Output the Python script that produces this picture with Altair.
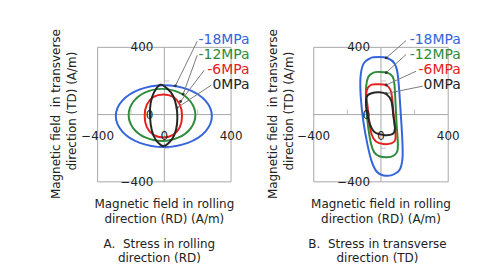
import altair as alt
import pandas as pd

# ---------------- data ----------------
ticks = [-400, 0, 400]
minor_ticks = [-200, 200]
series = ["-18MPa", "-12MPa", "-6MPa", "0MPa"]

# Panel A: stress in rolling direction
A_m18_x = [285, 246, 141, -3, -147, -252, -291, -252, -147, -3, 141, 246]
A_m18_y = [-9, 83, 150, 175, 150, 83, -9, -101, -168, -193, -168, -101]
A_m12_x = [186, 159, 86, -14, -114, -187, -214, -187, -114, -14, 86, 159]
A_m12_y = [-2, 75, 132, 153, 132, 75, -2, -80, -136, -157, -136, -80]
A_m6_x = [106, 93, 53, -6, -65, -105, -118, -105, -65, -6, 53, 93]
A_m6_y = [-8, 59, 105, 120, 105, 59, -8, -75, -121, -136, -121, -75]
A_0_x = [-24, 20, 52, 72, 78, 70, 45, -4, -50, -75, -86, -82, -62]
A_0_y = [178, 152, 112, 50, -20, -90, -148, -187, -152, -95, -10, 70, 132]

# Panel B: stress in transverse direction
B_m18_x = [-15, 40, 80, 98, 108, 118, 127, 128, 110, 65, 15, -25, -55, -80, -105, -120, -122, -105, -65]
B_m18_y = [342, 335, 305, 250, 150, 0, -150, -260, -330, -360, -362, -340, -280, -180, -40, 100, 220, 300, 335]
B_m12_x = [-10, 40, 70, 80, 86, 92, 100, 98, 75, 35, -10, -40, -60, -78, -88, -88, -75, -45]
B_m12_y = [254, 248, 225, 180, 80, -40, -160, -215, -245, -254, -248, -225, -170, -60, 60, 170, 225, 250]
B_m6_x = [-20, 30, 55, 65, 75, 86, 85, 65, 15, -30, -55, -70, -80, -88, -78, -55]
B_m6_y = [180, 175, 150, 110, 0, -100, -150, -170, -175, -160, -120, -40, 50, 120, 160, 178]
B_0_x = [-86, -56, -9, 33, 62, 74, 83, 68, 15, -39, -68, -86]
B_0_y = [104, 127, 133, 121, 80, -9, -86, -116, -121, -104, -50, 33]

# leader lines: label anchor -> point on curve (data units of each panel)
A_lead_x1 = [197, 197, 239, 281]
A_lead_y1 = [436, 353, 264, 175]
A_lead_x2 = [66, 113, 97, 76]
A_lead_y2 = [171, 122, 78, 40]
A_lab_x = [511, 511, 511, 511]
A_lab_y = [441, 352, 266, 175]

B_lead_x1 = [149, 149, 209, 248]
B_lead_y1 = [440, 357, 258, 169]
B_lead_x2 = [31, 31, 31, 31]
B_lead_y2 = [337, 250, 176, 125]
B_lab_x = [475, 475, 475, 475]
B_lab_y = [441, 352, 266, 175]

# ---------------- styles ----------------
FONT = "DejaVu Sans"
line_colors = ["#3565dc", "#2e8b3c", "#e3211e", "#262626"]
label_colors = ["#4a7ae0", "#3a9a48", "#e8302a", "#222222"]
GRID = "#a8a8a8"


def curves_df(panel_arrays):
    rows = []
    for s, (xs, ys) in zip(series, panel_arrays):
        for i, (x, y) in enumerate(zip(xs, ys)):
            rows.append({"series": s, "idx": i, "x": x, "y": y})
    return pd.DataFrame(rows)


def make_panel(curve_arrays, lx1, ly1, lx2, ly2, labx, laby, xrange,
               ytitle_x, xtitle_cx, caption, caption_cx):
    xs = alt.Scale(domain=[ticks[0], ticks[-1]], range=xrange)
    ys = alt.Scale(domain=[ticks[0], ticks[-1]], range=[181, 46])

    def X(f):
        return alt.X(f, type="quantitative", scale=xs, axis=None)

    def Y(f):
        return alt.Y(f, type="quantitative", scale=ys, axis=None)

    box_df = pd.DataFrame({"lo": [ticks[0]], "hi": [ticks[-1]], "zero": [0]})
    box = alt.Chart(box_df).mark_rect(fill="white", fillOpacity=0, stroke=GRID, strokeWidth=1).encode(
        x=X("lo"), x2="hi", y=Y("lo"), y2="hi")
    vline = alt.Chart(box_df).mark_rule(color=GRID, strokeWidth=1).encode(
        x=X("zero"), y=Y("lo"), y2="hi")
    hline = alt.Chart(box_df).mark_rule(color=GRID, strokeWidth=1).encode(
        y=Y("zero"), x=X("lo"), x2="hi")

    m_df = pd.DataFrame({"m": minor_ticks, "zero": [0] * len(minor_ticks)})
    mtx = alt.Chart(m_df).mark_tick(orient="vertical", size=5, thickness=1, yOffset=-2.5, color=GRID).encode(
        x=X("m"), y=Y("zero"))
    mty = alt.Chart(m_df).mark_tick(orient="horizontal", size=5, thickness=1, xOffset=2.5, color=GRID).encode(
        y=Y("m"), x=X("zero"))

    t_df = pd.DataFrame({"v": ticks, "zero": [0] * len(ticks), "lab": [str(t) for t in ticks]})
    t_df["lab"] = t_df["lab"].str.replace("-", "\u2212")
    xlab = alt.Chart(t_df).mark_text(font=FONT, fontSize=12, color="#222", dy=21.5, baseline="middle").encode(
        x=X("v"), y=Y("zero"), text="lab:N")
    ylab = alt.Chart(t_df).mark_text(font=FONT, fontSize=12, color="#222", dx=-11, align="right",
                                     baseline="middle").encode(
        x=X("zero"), y=Y("v"), text="lab:N")

    cdf = curves_df(curve_arrays)
    color = alt.Color("series:N", scale=alt.Scale(domain=series, range=line_colors), legend=None)
    lines = alt.Chart(cdf).mark_line(interpolate="cardinal-closed", strokeWidth=2).encode(
        x=X("x"), y=Y("y"), color=color, detail="series:N", order="idx:Q")

    lead_df = pd.DataFrame({"series": series, "x1": lx1, "y1": ly1, "x2": lx2, "y2": ly2,
                            "lx": labx, "ly": laby})
    leads = alt.Chart(lead_df).mark_rule(color="#7a7a7a", strokeWidth=1).encode(
        x=X("x1"), y=Y("y1"), x2="x2", y2="y2")
    dots = alt.Chart(lead_df).mark_point(filled=True, size=8, color="#333", opacity=1).encode(
        x=X("x2"), y=Y("y2"))
    labs = alt.Chart(lead_df).mark_text(font=FONT, fontSize=14, align="right", baseline="middle").encode(
        x=X("lx"), y=Y("ly"), text="series:N",
        color=alt.Color("series:N", scale=alt.Scale(domain=series, range=label_colors), legend=None))

    def txt(s, x, y, angle=0):
        kw = {"angle": angle} if angle else {}
        return alt.Chart(pd.DataFrame({"t": [s]})).mark_text(
            font=FONT, fontSize=12, color="#222", baseline="middle", align="center", **kw).encode(
            text="t:N", x=alt.value(x), y=alt.value(y))

    titles = [
        txt("Magnetic field\u00a0 in transverse", ytitle_x, 113, 270),
        txt("direction (TD) (A/m)", ytitle_x + 16, 110, 270),
        txt("Magnetic field in rolling", xtitle_cx, 203),
        txt("direction (RD) (A/m)", xtitle_cx, 218),
        txt(caption[0], caption_cx, 243),
        txt(caption[1], caption_cx, 258),
    ]

    return alt.layer(box, vline, hline, mtx, mty, lines, leads, dots, xlab, ylab, labs, *titles).properties(
        width=250, height=271)


panelA = make_panel(
    [(A_m18_x, A_m18_y), (A_m12_x, A_m12_y), (A_m6_x, A_m6_y), (A_0_x, A_0_y)],
    A_lead_x1, A_lead_y1, A_lead_x2, A_lead_y2, A_lab_x, A_lab_y,
    [97, 231], 55, 164, ("A.\u00a0 Stress in rolling", "direction (RD)"), 159)

panelB = make_panel(
    [(B_m18_x, B_m18_y), (B_m12_x, B_m12_y), (B_m6_x, B_m6_y), (B_0_x, B_0_y)],
    B_lead_x1, B_lead_y1, B_lead_x2, B_lead_y2, B_lab_x, B_lab_y,
    [64, 199], 23, 131.5, ("B.\u00a0 Stress in transverse", "direction (TD)"), 128)

chart = alt.hconcat(panelA, panelB, spacing=0, bounds="flush").resolve_scale(
    x="independent", y="independent", color="independent").properties(
    padding=0, background="white").configure_view(stroke="transparent")

chart.save("out.html", embed_options={"renderer": "svg", "actions": False})
